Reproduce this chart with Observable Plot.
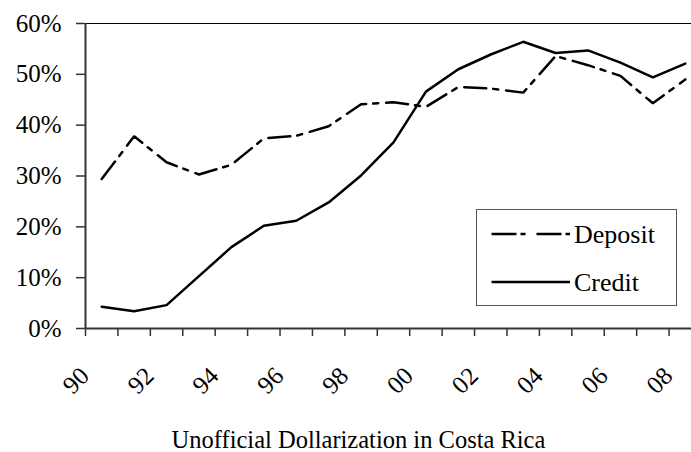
<!DOCTYPE html>
<html>
<head>
<meta charset="utf-8">
<script src="https://cdn.jsdelivr.net/npm/d3@7"></script>
<script src="https://cdn.jsdelivr.net/npm/@observablehq/plot@0.6"></script>
<style>
  html, body { margin: 0; padding: 0; background: white; }
  #wrap { position: relative; width: 691px; height: 452px; overflow: hidden; font-family: "Liberation Serif", "Times New Roman", serif; }
  #legend { position: absolute; left: 476px; top: 209px; }
  #caption { position: absolute; left: 0; width: 717px; top: 428px; text-align: center; font-size: 24.5px; line-height: 24px; color: black; white-space: nowrap; }
</style>
</head>
<body>
<div id="wrap"><div id="chart"></div><div id="legend"></div><div id="caption"></div></div>
<script>
// Data
const periods = [1990.5, 1991.5, 1992.5, 1993.5, 1994.5, 1995.5, 1996.5, 1997.5, 1998.5, 1999.5,
                 2000.5, 2001.5, 2002.5, 2003.5, 2004.5, 2005.5, 2006.5, 2007.5, 2008.5];
const deposit = [29.4, 37.8, 32.7, 30.3, 32.2, 37.4, 37.9, 39.8, 44.1, 44.5,
                 43.6, 47.5, 47.2, 46.4, 53.6, 51.8, 49.7, 44.3, 49.0];
const credit  = [4.3, 3.4, 4.6, 10.3, 16.0, 20.2, 21.2, 24.8, 30.1, 36.6,
                 46.6, 51.0, 53.9, 56.4, 54.2, 54.7, 52.3, 49.4, 52.1];
const tickYears = [1990, 1991, 1992, 1993, 1994, 1995, 1996, 1997, 1998, 1999,
                   2000, 2001, 2002, 2003, 2004, 2005, 2006, 2007, 2008, 2009];
const labelYears = [1990, 1992, 1994, 1996, 1998, 2000, 2002, 2004, 2006, 2008];
const tickLabels = ["90", "92", "94", "96", "98", "00", "02", "04", "06", "08"];
const yTicks = [0, 10, 20, 30, 40, 50, 60];
const seriesNames = ["Deposit", "Credit"];
const captionText = "Unofficial Dollarization in Costa Rica";

const depositRows = periods.map((t, i) => ({t, v: deposit[i], s: "Deposit"}));
const creditRows = periods.map((t, i) => ({t, v: credit[i], s: "Credit"}));
const dashPattern = "22,7,5,8";
const serif = "'Liberation Serif', 'Times New Roman', Times, serif";

function draw() {
  const chart = Plot.plot({
    width: 691,
    height: 420,
    marginTop: 23,
    marginBottom: 92,
    marginLeft: 85,
    marginRight: 0,
    x: {domain: [1990, 2009], range: [85, 701]},
    y: {domain: [0, 60]},
    style: {fontFamily: serif, fontSize: "25px", color: "black", background: "white", overflow: "hidden"},
    marks: [
      Plot.ruleY([60], {x1: 1990, x2: 2009, stroke: "black", strokeWidth: 1}),
      Plot.axisY({ticks: yTicks, tickSize: 9, tickPadding: 15, tickFormat: d => d + "%", stroke: "#333", strokeWidth: 1.5, label: null, fontSize: 25, fontFamily: serif, fontVariant: "normal"}),
      Plot.axisX({ticks: tickYears, tickSize: 8, tickFormat: () => "", stroke: "#333", strokeWidth: 1.5, label: null}),
      Plot.text(labelYears, {x: d => d, text: (d, i) => tickLabels[i], frameAnchor: "bottom", textAnchor: "end", lineAnchor: "bottom", rotate: -45, dx: 5, dy: 49, fontSize: 25, fontFamily: serif, fill: "black"}),
      Plot.ruleX([1990], {y1: 0, y2: 60, stroke: "#333", strokeWidth: 2}),
      Plot.ruleY([0], {x1: 1990, x2: 2009, stroke: "#333", strokeWidth: 2}),
      Plot.line(depositRows, {x: "t", y: "v", stroke: "black", strokeWidth: 2.5, strokeDasharray: dashPattern, strokeLinejoin: "miter"}),
      Plot.line(creditRows, {x: "t", y: "v", stroke: "black", strokeWidth: 2.5, strokeLinejoin: "miter"})
    ]
  });
  const holder = document.getElementById("chart");
  holder.replaceChildren(chart);
}
draw();

// Legend
const ns = "http://www.w3.org/2000/svg";
const lg = document.createElementNS(ns, "svg");
lg.setAttribute("width", 202);
lg.setAttribute("height", 98);
const box = document.createElementNS(ns, "rect");
box.setAttribute("x", 0.5); box.setAttribute("y", 0.5);
box.setAttribute("width", 200); box.setAttribute("height", 96);
box.setAttribute("fill", "white"); box.setAttribute("stroke", "#555"); box.setAttribute("stroke-width", 1);
lg.appendChild(box);
seriesNames.forEach((name, i) => {
  const ly = 25 + i * 48;
  const ln = document.createElementNS(ns, "line");
  ln.setAttribute("x1", 15.5); ln.setAttribute("x2", 94);
  ln.setAttribute("y1", ly); ln.setAttribute("y2", ly);
  ln.setAttribute("stroke", "black"); ln.setAttribute("stroke-width", 2.5);
  if (i === 0) ln.setAttribute("stroke-dasharray", "25,4,5,11");
  lg.appendChild(ln);
  const tx = document.createElementNS(ns, "text");
  tx.setAttribute("x", 98); tx.setAttribute("y", ly + 9);
  tx.setAttribute("font-family", serif);
  tx.setAttribute("font-size", 26);
  tx.setAttribute("fill", "black");
  tx.textContent = name;
  lg.appendChild(tx);
});
document.getElementById("legend").appendChild(lg);

document.getElementById("caption").textContent = captionText;

if (document.fonts && document.fonts.ready) document.fonts.ready.then(draw);
</script>
</body>
</html>
